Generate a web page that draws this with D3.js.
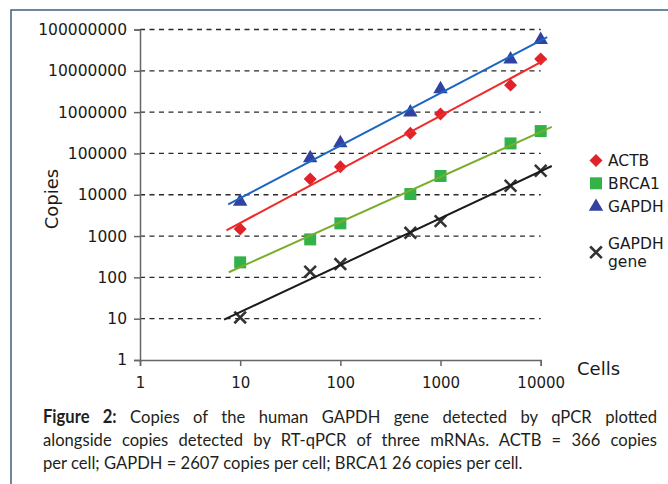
<!DOCTYPE html>
<html>
<head>
<meta charset="utf-8">
<script src="https://cdn.jsdelivr.net/npm/d3@7"></script>
<style>
  body { margin: 0; background: #fff; }
  svg { display: block; }
  .axis path, .axis line { stroke: #666; stroke-width: 1.5; }
  .axis text { font-family: "DejaVu Sans", Verdana, sans-serif; fill: #1a1a1a; }
</style>
</head>
<body>
<div class="chart"></div>
<script>
// chart data
// ==========================================================================
var cells = [10, 50, 100, 500, 1000, 5000, 10000];
var actb = [1480, 24000, 47600, 307000, 900000, 4500000, 19300000];
var brca1 = [231, 830, 2030, 10400, 28400, 175000, 348000];
var gapdh = [6800, 77000, 179000, 990000, 3600000, 19000000, 56000000];
var gapdhGene = [10.7, 137, 210, 1200, 2300, 16500, 38100];

var seriesNames = ["ACTB", "BRCA1", "GAPDH", "GAPDH gene"];
// trendline extent (cells) for each series
var trendStart = [7.3, 7.7, 7.6, 6.9];
var trendEnd = [11400, 12900, 11600, 12900];

var xTicks = [1, 10, 100, 1000, 10000];
var yTicks = [1, 10, 100, 1000, 10000, 100000, 1000000, 10000000, 100000000];

var captionLines = [
  "Copies of the human GAPDH gene detected by qPCR plotted",
  "alongside copies detected by RT-qPCR of three mRNAs. ACTB = 366 copies",
  "per cell; GAPDH = 2607 copies per cell; BRCA1 26 copies per cell."
];

// set up chart configurations
// ==========================================================================
var svgWidth = 668;
var svgHeight = 484;

var margin = { top: 29.5, left: 140 };
var width = 400.7;
var height = 330.5;

var svg = d3.select(".chart")
  .append("svg")
  .attr("width", svgWidth)
  .attr("height", svgHeight);

// frame of the figure
svg.append("path")
  .attr("d", "M11," + svgHeight + "V10H" + svgWidth)
  .attr("fill", "none")
  .attr("stroke", "#3f6083")
  .attr("stroke-width", 1.5);

var chartGroup = svg.append("g")
  .attr("transform", `translate(${margin.left}, ${margin.top})`);

var xScale = d3.scaleLog().domain([1, 10000]).range([0, width]);
var yScale = d3.scaleLog().domain([1, 100000000]).range([height, 0]);

// gridlines
chartGroup.selectAll(".grid")
  .data(yTicks.slice(1))
  .enter()
  .append("line")
  .attr("class", "grid")
  .attr("x1", 0)
  .attr("x2", width)
  .attr("y1", d => yScale(d))
  .attr("y2", d => yScale(d))
  .attr("stroke", "#2a2a2a")
  .attr("stroke-width", 1.3)
  .attr("stroke-dasharray", "5,4.5");

// axes
var bottomAxis = d3.axisBottom(xScale)
  .tickValues(xTicks)
  .tickFormat(d3.format("d"))
  .tickSizeOuter(0)
  .tickSize(6)
  .tickPadding(11);

var leftAxis = d3.axisLeft(yScale)
  .tickValues(yTicks)
  .tickFormat(d3.format("d"))
  .tickSizeOuter(0)
  .tickSize(6)
  .tickPadding(7);

chartGroup.append("g")
  .attr("class", "axis")
  .attr("transform", `translate(0, ${height})`)
  .call(bottomAxis)
  .selectAll("text")
  .style("font-size", "15px");

chartGroup.append("g")
  .attr("class", "axis")
  .call(leftAxis)
  .selectAll("text")
  .style("font-size", "15.5px");

// axis titles
svg.append("text")
  .attr("transform", "translate(58, 199) rotate(-90)")
  .attr("text-anchor", "middle")
  .style("font-family", "DejaVu Sans, sans-serif")
  .style("font-size", "18px")
  .attr("fill", "#1a1a1a")
  .text("Copies");

svg.append("text")
  .attr("x", 577)
  .attr("y", 375)
  .style("font-family", "DejaVu Sans, sans-serif")
  .style("font-size", "18px")
  .attr("fill", "#1a1a1a")
  .text("Cells");

// series styling
var seriesValues = [actb, brca1, gapdh, gapdhGene];
var markerFill = ["#e0232b", "#33b24a", "#3142a0", "none"];
var lineColor = ["#ee2a2a", "#79ad2c", "#1b66c0", "#1a1a1a"];

function markerPath(i) {
  if (i === 0) return d3.symbol(d3.symbolSquare, 84)();
  if (i === 1) return d3.symbol(d3.symbolSquare, 144)();
  if (i === 2) return d3.symbol(d3.symbolTriangle, 90)();
  return d3.symbol(d3.symbolTimes, 90)();
}

function drawMarker(g, i) {
  var p = g.append("path").attr("d", markerPath(i));
  if (i === 0) p.attr("transform", "rotate(45)");
  if (i === 3) {
    p.attr("fill", "none").attr("stroke", "#333").attr("stroke-width", 2.6);
  } else {
    p.attr("fill", markerFill[i]);
  }
}

// power trendline: least squares in log-log space
function powerFit(xs, ys) {
  var lx = xs.map(Math.log10), ly = ys.map(Math.log10);
  var mx = d3.mean(lx), my = d3.mean(ly);
  var sxy = d3.sum(lx, (v, k) => (v - mx) * (ly[k] - my));
  var sxx = d3.sum(lx, v => (v - mx) * (v - mx));
  var b = sxy / sxx;
  var a = my - b * mx;
  return x => Math.pow(10, a + b * Math.log10(x));
}

var line = d3.line()
  .x(d => xScale(d[0]))
  .y(d => yScale(d[1]));

// markers
seriesValues.forEach(function(vals, i) {
  cells.forEach(function(c, k) {
    var g = chartGroup.append("g")
      .attr("transform", `translate(${xScale(c)}, ${yScale(vals[k])})`);
    drawMarker(g, i);
  });
});

// trendlines drawn over the markers
seriesValues.forEach(function(vals, i) {
  var f = powerFit(cells, vals);
  chartGroup.append("path")
    .datum([[trendStart[i], f(trendStart[i])], [trendEnd[i], f(trendEnd[i])]])
    .attr("d", line)
    .attr("fill", "none")
    .attr("stroke", lineColor[i])
    .attr("stroke-width", 2);
});

// legend
var legendY = [160.5, 183.3, 206.7, 252.3];
var legend = svg.append("g");
seriesNames.forEach(function(name, i) {
  var g = legend.append("g")
    .attr("transform", `translate(596, ${legendY[i]})`);
  drawMarker(g, i);
  var t = g.append("text")
    .attr("x", 12)
    .style("font-family", "DejaVu Sans, sans-serif")
    .style("font-size", "15.5px")
    .attr("fill", "#1a1a1a");
  var words = name.split(" ");
  if (words.length === 1) {
    t.attr("dy", "0.35em").text(name);
  } else {
    t.append("tspan").attr("x", 12).attr("y", -8.5).attr("dy", "0.35em").text(words[0]);
    t.append("tspan").attr("x", 12).attr("y", 9.5).attr("dy", "0.35em").text(words[1]);
  }
});

// caption, justified lines
var capLeft = 43, capRight = 657, capLast = 523;
var capBase = [423, 446, 469];
var capGroups = captionLines.map(function(txt, i) {
  var g = svg.append("g");
  var t = g.append("text")
    .attr("y", 0)
    .style("font-family", "Lato, 'Open Sans', sans-serif")
    .style("font-size", "18px")
    .attr("fill", "#231f20");
  if (i === 0) {
    t.append("tspan").style("font-weight", "bold").text("Figure 2:");
    t.append("tspan").text(" " + txt);
  } else {
    t.text(txt);
  }
  return { g: g, t: t, txt: i === 0 ? "Figure 2: " + txt : txt };
});

// squeeze factor taken from the last (unjustified) line
var lastW = capGroups[2].t.node().getComputedTextLength();
var k = (capLast - capLeft) / lastW;
capGroups.forEach(function(c, i) {
  c.g.attr("transform", `translate(${capLeft}, ${capBase[i]}) scale(${k}, 1)`);
  if (i < 2) {
    var w = c.t.node().getComputedTextLength();
    var spaces = c.txt.split(" ").length - 1;
    c.t.style("word-spacing", ((capRight - capLeft) / k - w) / spaces + "px");
  }
});
</script>
</body>
</html>
